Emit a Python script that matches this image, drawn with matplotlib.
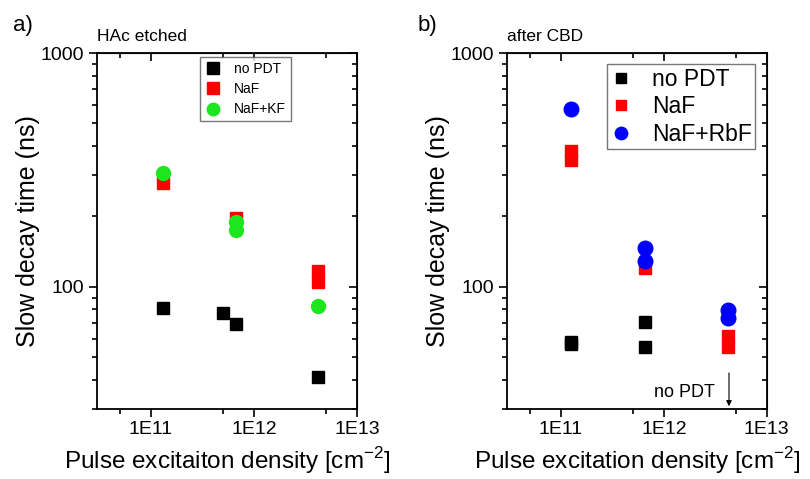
import matplotlib.pyplot as plt
from matplotlib.ticker import LogLocator, NullFormatter, FixedLocator

plt.rcParams['font.family'] = ['Liberation Sans', 'DejaVu Sans']

# panel a) HAc etched
nopdt_a_x = [1.3e11, 5.0e11, 6.7e11, 4.2e12]
nopdt_a_y = [81, 77, 69, 41]
naf_a_x = [1.3e11, 6.7e11, 4.2e12, 4.2e12]
naf_a_y = [277, 197, 117, 105]
nafkf_a_x = [1.3e11, 6.7e11, 6.7e11, 4.2e12]
nafkf_a_y = [306, 190, 175, 83]

# panel b) after CBD
nopdt_b_x = [1.25e11, 1.25e11, 6.6e11, 6.6e11]
nopdt_b_y = [58, 57, 71, 55.5]
naf_b_x = [1.25e11, 1.25e11, 6.6e11, 4.2e12, 4.2e12]
naf_b_y = [383, 350, 120, 61.5, 55]
nafrbf_b_x = [1.25e11, 6.6e11, 6.6e11, 4.2e12, 4.2e12]
nafrbf_b_y = [576, 147, 129, 79.4, 73.7]

xticks = [1e11, 1e12, 1e13]
xtick_labels = ["1E11", "1E12", "1E13"]

fig = plt.figure(figsize=(8.1, 4.79), dpi=100)
ax1 = fig.add_axes([0.1198, 0.1461, 0.321, 0.743])
ax2 = fig.add_axes([0.6263, 0.1461, 0.3202, 0.743])


def style_axes(ax):
    ax.set_xscale("log")
    ax.set_yscale("log")
    ax.set_xlim(3e10, 1e13)
    ax.set_ylim(30, 1000)
    ax.set_xticks(xticks)
    ax.set_xticklabels(xtick_labels)
    ax.xaxis.set_minor_locator(FixedLocator([5e10, 5e11, 5e12]))
    ax.xaxis.set_minor_formatter(NullFormatter())
    ax.set_yticks([100, 1000])
    ax.set_yticklabels(["100", "1000"])
    ax.yaxis.set_minor_locator(LogLocator(base=10, subs=range(2, 10)))
    ax.yaxis.set_minor_formatter(NullFormatter())
    ax.tick_params(which="both", direction="out", labelsize=14, width=1.2)
    ax.tick_params(which="major", length=6)
    ax.tick_params(which="minor", length=3.5)
    ax.tick_params(axis="x", pad=2.5)
    for s in ax.spines.values():
        s.set_linewidth(1.3)
    # mirrored ticks on top and right pointing inward
    top = ax.secondary_xaxis("top")
    top.set_xticks(xticks)
    top.xaxis.set_minor_locator(FixedLocator([5e10, 5e11, 5e12]))
    top.tick_params(which="both", direction="in", labeltop=False, width=1.2)
    top.tick_params(which="major", length=6)
    top.tick_params(which="minor", length=3.5)
    right = ax.secondary_yaxis("right")
    right.set_yticks([100, 1000])
    right.yaxis.set_minor_locator(LogLocator(base=10, subs=range(2, 10)))
    right.tick_params(which="both", direction="in", labelright=False, width=1.2)
    right.tick_params(which="major", length=6)
    right.tick_params(which="minor", length=3.5)
    ax.set_ylabel("Slow decay time (ns)", fontsize=18)
    ax.yaxis.set_label_coords(-0.22, 0.5)


style_axes(ax1)
ax1.plot(nopdt_a_x, nopdt_a_y, "s", color="black", ms=9, ls="none", label="no PDT")
ax1.plot(naf_a_x, naf_a_y, "s", color="#ff0000", ms=9, ls="none", label="NaF")
ax1.plot(nafkf_a_x, nafkf_a_y, "o", color="#1ee61e", ms=10, ls="none", label="NaF+KF")
ax1.set_xlabel(r"Pulse excitaiton density [cm$^{\mathregular{-2}}$]", fontsize=17.5)
ax1.xaxis.set_label_coords(0.5, -0.1)
ax1.legend(loc="upper left", bbox_to_anchor=(0.396, 0.989), borderaxespad=0, fontsize=10,
           frameon=True, fancybox=False, edgecolor="#555555", handletextpad=0.9,
           borderpad=0.35, labelspacing=0.45, handlelength=1.2, markerscale=0.9)
ax1.text(0.0, 1.025, "HAc etched", transform=ax1.transAxes, fontsize=12.5, va="bottom")
fig.text(0.016, 0.935, "a)", fontsize=16)

style_axes(ax2)
ax2.plot(nopdt_b_x, nopdt_b_y, "s", color="black", ms=9, ls="none", label="no PDT")
ax2.plot(naf_b_x, naf_b_y, "s", color="#ff0000", ms=9, ls="none", label="NaF")
ax2.plot(nafrbf_b_x, nafrbf_b_y, "o", color="#0000ff", ms=10.5, ls="none", label="NaF+RbF")
ax2.set_xlabel(r"Pulse excitation density [cm$^{\mathregular{-2}}$]", fontsize=17.5)
ax2.xaxis.set_label_coords(0.5, -0.1)
ax2.legend(loc="upper left", bbox_to_anchor=(0.386, 0.969), borderaxespad=0, fontsize=16.5,
           frameon=True, fancybox=False, edgecolor="#555555", handletextpad=0.9,
           borderpad=0.15, labelspacing=0.2, handlelength=0.9, markerscale=0.85)
ax2.text(0.0, 1.025, "after CBD", transform=ax2.transAxes, fontsize=12.5, va="bottom")
ax2.annotate("", xy=(4.3e12, 30), xytext=(4.3e12, 44),
             arrowprops=dict(arrowstyle="-|>", color="black", lw=0.8, mutation_scale=8))
ax2.text(1.6e12, 35.2, "no PDT", fontsize=13, ha="center", va="center")
fig.text(0.515, 0.935, "b)", fontsize=16)

fig.savefig("out.png", dpi=100)
